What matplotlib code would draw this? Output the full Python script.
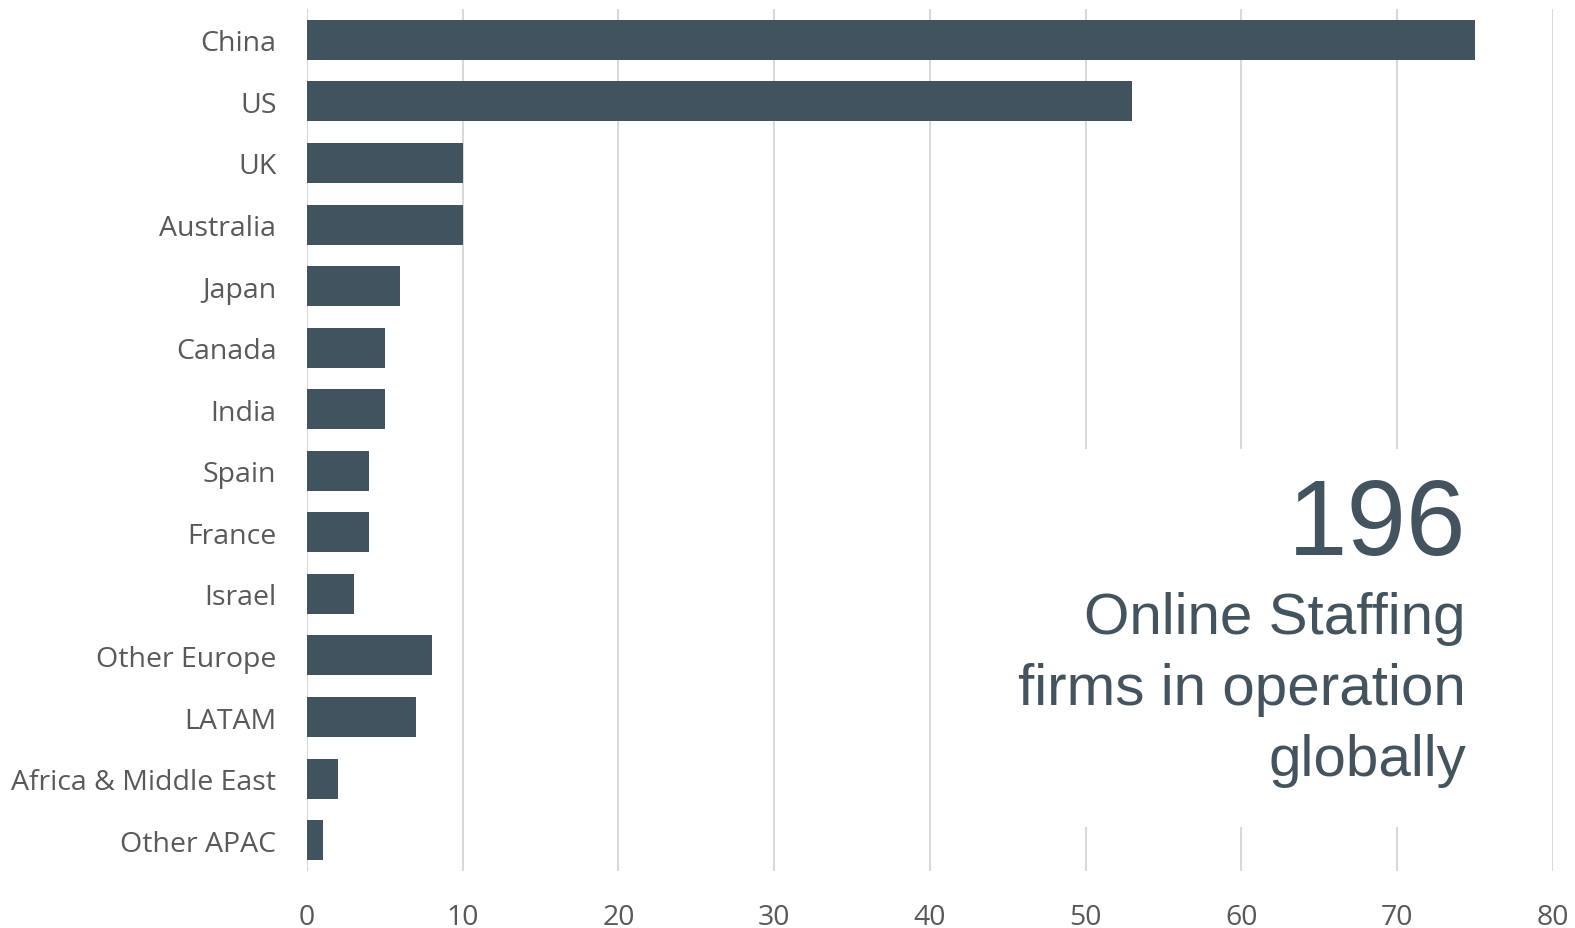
import matplotlib.pyplot as plt
from matplotlib.patches import Rectangle

# Firms by region
regions = ["China", "US", "UK", "Australia", "Japan", "Canada", "India",
           "Spain", "France", "Israel", "Other Europe", "LATAM",
           "Africa & Middle East", "Other APAC"]
firms = [75, 53, 10, 10, 6, 5, 5, 4, 4, 3, 8, 7, 2, 1]
x_ticks = [0, 10, 20, 30, 40, 50, 60, 70, 80]

total_text = "196"
caption_lines = ["Online Staffing", "firms in operation", "globally"]

bar_color = "#41535f"
text_color = "#44545f"
label_color = "#595959"

fig = plt.figure(figsize=(15.75, 9.29), dpi=100)
ax = fig.add_axes([0.1949, 0.0614, 0.7911, 0.9278])

pos = list(range(len(regions)))
ax.barh(pos, firms, height=0.65, color=bar_color, zorder=2)
ax.set_ylim(len(regions) - 0.5, -0.5)
ax.set_yticks(pos)
ax.set_yticklabels(regions, fontfamily="Open Sans", fontsize=20.5, color=label_color)
ax.set_xlim(0, 80)
ax.set_xticks(x_ticks)
ax.set_xticklabels([str(t) for t in x_ticks], fontfamily="Open Sans", fontsize=20.5,
                   color=label_color)
ax.tick_params(axis="both", length=0)
ax.tick_params(axis="y", pad=22)
ax.tick_params(axis="x", pad=23)

ax.grid(axis="x", color="#d9d9d9", linewidth=1.5, zorder=0)
ax.set_axisbelow(True)
for s in ax.spines.values():
    s.set_visible(False)

# white panel behind the summary text
fig.patches.append(Rectangle((1010 / 1575, 1 - 828 / 929), 470 / 1575, 378 / 929,
                             transform=fig.transFigure, facecolor="white",
                             edgecolor="none", zorder=1))

fig.text(1466 / 1575, 1 - 555 / 929, total_text, ha="right", va="baseline",
         fontfamily="Liberation Sans", fontsize=77, color=text_color, zorder=3)
for i, line in enumerate(caption_lines):
    fig.text(1466 / 1575, 1 - (634 + 71 * i) / 929, line, ha="right", va="baseline",
             fontfamily="Liberation Sans", fontsize=42, color=text_color, zorder=3)

fig.savefig("out.png", dpi=100)
